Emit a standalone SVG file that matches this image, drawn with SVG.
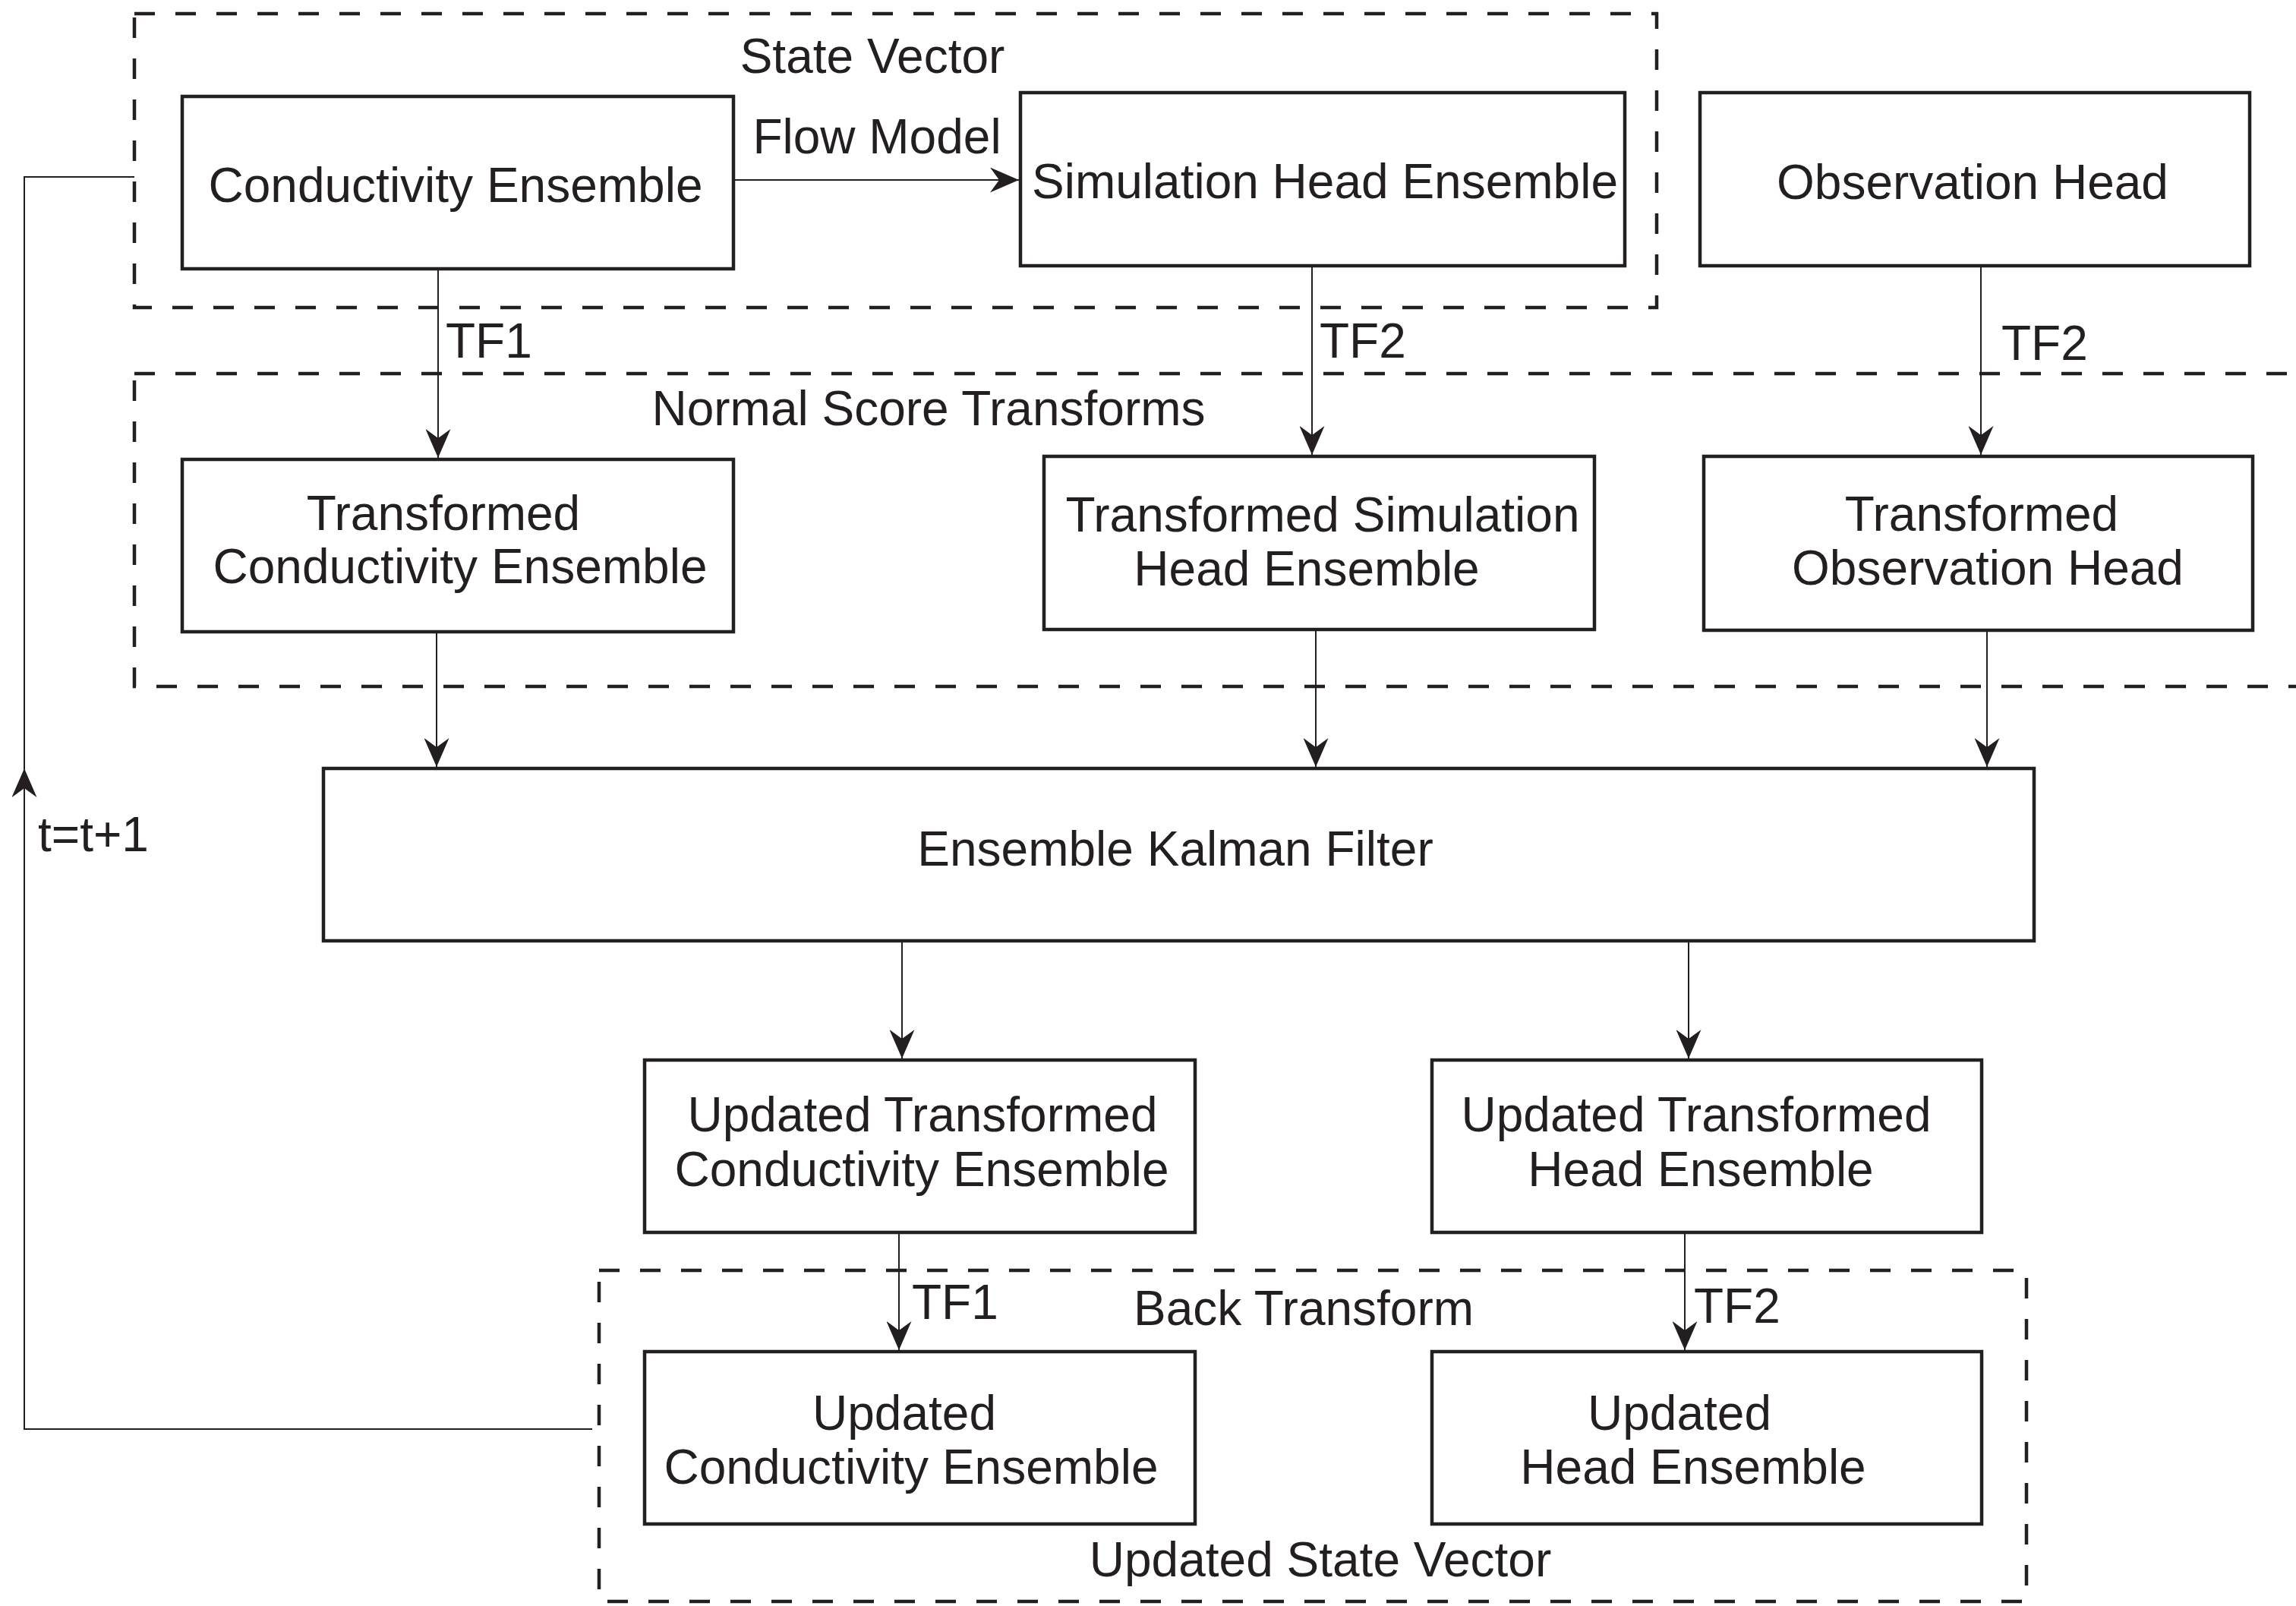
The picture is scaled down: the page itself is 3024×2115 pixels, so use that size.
<svg xmlns="http://www.w3.org/2000/svg" width="3024" height="2115" viewBox="0 0 3024 2115">
<style>
.bg{fill:#ffffff}
.box{fill:#ffffff;stroke:#231f20;stroke-width:4.5}
.dash{fill:none;stroke:#231f20;stroke-width:4.5;stroke-dasharray:27 27}
.conn{fill:none;stroke:#231f20;stroke-width:2}
.arr{marker-end:url(#ah)}
text{font-family:"Liberation Sans",Arial,sans-serif;font-size:64px;fill:#231f20}
.c{text-anchor:middle}
</style>
<defs>
<marker id="ah" markerUnits="userSpaceOnUse" viewBox="0 0 38 33" refX="38" refY="16.5" markerWidth="38" markerHeight="33" orient="auto">
<path d="M0,0 L38,16.5 L0,33 L12,16.5 Z" fill="#231f20"/>
</marker>
</defs>
<rect class="bg" x="0" y="0" width="3024" height="2115"/>

<g id="groups">
<g id="state-vector-group">
<rect class="dash" x="177" y="18" width="2005" height="387"/>
<text class="c" x="1149" y="96">State Vector</text>
</g>
<g id="normal-score-group">
<rect class="dash" x="177" y="492" width="2900" height="412"/>
<text class="c" x="1223" y="560">Normal Score Transforms</text>
</g>
<g id="back-transform-group">
<rect class="dash" x="789" y="1673" width="1880" height="436"/>
<text class="c" x="1717" y="1745">Back Transform</text>
<text class="c" x="1739" y="2076">Updated State Vector</text>
</g>
</g>

<g id="connectors">
<line class="conn arr" x1="966" y1="237" x2="1342" y2="237"/>
<text class="c" x="1155" y="202">Flow Model</text>
<line class="conn arr" x1="577" y1="354" x2="577" y2="603"/>
<text x="587" y="471">TF1</text>
<line class="conn arr" x1="1728" y1="350" x2="1728" y2="599"/>
<text x="1738" y="471">TF2</text>
<line class="conn arr" x1="2609" y1="350" x2="2609" y2="599"/>
<text x="2636" y="474">TF2</text>
<line class="conn arr" x1="575" y1="832" x2="575" y2="1010"/>
<line class="conn arr" x1="1733" y1="829" x2="1733" y2="1010"/>
<line class="conn arr" x1="2617" y1="830" x2="2617" y2="1010"/>
<line class="conn arr" x1="1188" y1="1239" x2="1188" y2="1394"/>
<line class="conn arr" x1="2224" y1="1239" x2="2224" y2="1394"/>
<line class="conn arr" x1="1184" y1="1623" x2="1184" y2="1778"/>
<text x="1201" y="1737">TF1</text>
<line class="conn arr" x1="2219" y1="1623" x2="2219" y2="1778"/>
<text x="2231" y="1742">TF2</text>
<polyline class="conn" points="780,1882 32,1882 32,233 177,233"/>
<line class="conn arr" x1="32" y1="1100" x2="32" y2="1012"/>
<text x="50" y="1121">t=t+1</text>
</g>

<g id="conductivity-ensemble">
<rect class="box" x="240" y="127" width="726" height="227"/>
<text class="c" x="600" y="266">Conductivity Ensemble</text>
</g>
<g id="simulation-head-ensemble">
<rect class="box" x="1344" y="122" width="796" height="228"/>
<text class="c" x="1745" y="261">Simulation Head Ensemble</text>
</g>
<g id="observation-head">
<rect class="box" x="2239" y="122" width="724" height="228"/>
<text class="c" x="2598" y="262">Observation Head</text>
</g>
<g id="transformed-conductivity">
<rect class="box" x="240" y="605" width="726" height="227"/>
<text class="c" x="584" y="698">Transformed</text>
<text class="c" x="606" y="768">Conductivity Ensemble</text>
</g>
<g id="transformed-simulation-head">
<rect class="box" x="1375" y="601" width="725" height="228"/>
<text class="c" x="1742" y="700">Transformed Simulation</text>
<text class="c" x="1721" y="771">Head Ensemble</text>
</g>
<g id="transformed-observation-head">
<rect class="box" x="2244" y="601" width="723" height="229"/>
<text class="c" x="2610" y="699">Transformed</text>
<text class="c" x="2618" y="770">Observation Head</text>
</g>
<g id="ensemble-kalman-filter">
<rect class="box" x="426" y="1012" width="2253" height="227"/>
<text class="c" x="1548" y="1140">Ensemble Kalman Filter</text>
</g>
<g id="updated-transformed-conductivity">
<rect class="box" x="849" y="1396" width="725" height="227"/>
<text class="c" x="1215" y="1490">Updated Transformed</text>
<text class="c" x="1214" y="1562">Conductivity Ensemble</text>
</g>
<g id="updated-transformed-head">
<rect class="box" x="1886" y="1396" width="724" height="227"/>
<text class="c" x="2234" y="1490">Updated Transformed</text>
<text class="c" x="2240" y="1562">Head Ensemble</text>
</g>
<g id="updated-conductivity">
<rect class="box" x="849" y="1780" width="725" height="227"/>
<text class="c" x="1191" y="1883">Updated</text>
<text class="c" x="1200" y="1954">Conductivity Ensemble</text>
</g>
<g id="updated-head">
<rect class="box" x="1886" y="1780" width="724" height="227"/>
<text class="c" x="2212" y="1883">Updated</text>
<text class="c" x="2230" y="1954">Head Ensemble</text>
</g>
</svg>
